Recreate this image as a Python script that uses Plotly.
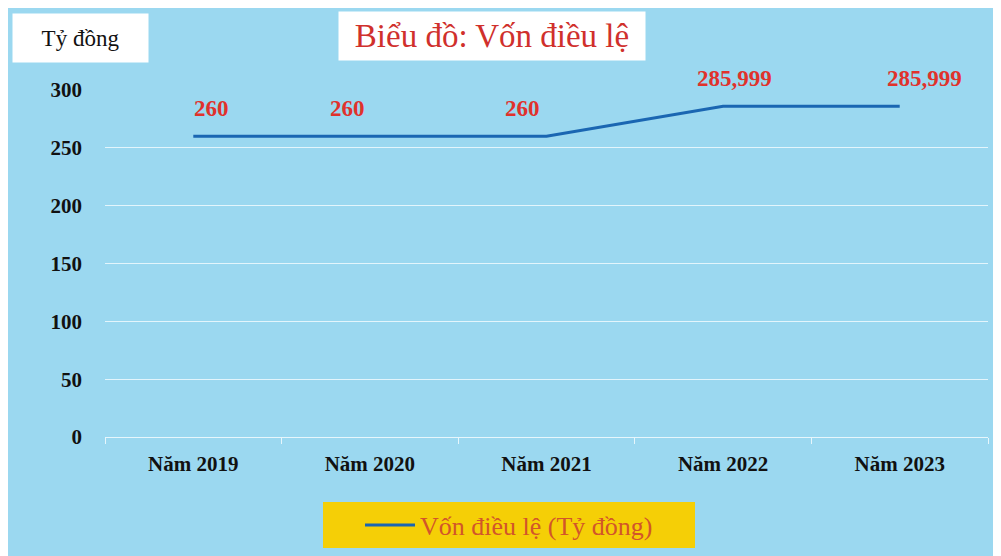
import plotly.graph_objects as go

categories = ["Năm 2019", "Năm 2020", "Năm 2021", "Năm 2022", "Năm 2023"]
von_dieu_le = [260, 260, 260, 285.999, 285.999]
y_ticks = [0, 50, 100, 150, 200, 250, 300]
labels = [f"{v:g}".replace(".", ",") for v in von_dieu_le]
label_xshift = [18, -22, -24, 11, 25]  # style: manual label nudges as in the original

OFF = 8  # page body margin in the browser
W, H = 1001 - OFF, 556 - OFF
ML, MR, MT, MB = 105 - OFF, 13, 90 - OFF, 119
pw, ph = W - ML - MR, H - MT - MB

def px(x):  # reference-screen x -> paper x
    return (x - OFF - ML) / pw

def py(y):  # reference-screen y -> paper y
    return (H - MB - (y - OFF)) / ph

SERIF = "Liberation Serif, Times New Roman, serif"
BG = "#9bd8f0"

fig = go.Figure()
fig.add_trace(go.Scatter(
    x=categories, y=von_dieu_le, mode="lines",
    name="Vốn điều lệ (Tỷ đồng)",
    line=dict(color="#1a66b2", width=3),
))

value_labels = [
    dict(text=f"<b>{t}</b>", x=c, y=v, xref="x", yref="y",
         xanchor="center", yanchor="bottom", yshift=13, xshift=dx, showarrow=False,
         font=dict(family=SERIF, size=23, color="#e0322c"))
    for c, v, t, dx in zip(categories, von_dieu_le, labels, label_xshift)
]

fig.update_layout(
    width=W, height=H,
    margin=dict(l=ML, r=MR, t=MT, b=MB, autoexpand=False),
    paper_bgcolor=BG,
    plot_bgcolor="rgba(0,0,0,0)",
    showlegend=True,
    legend=dict(
        orientation="h", x=px(509), xanchor="center", y=py(525), yanchor="middle",
        bgcolor="rgba(0,0,0,0)", font=dict(family=SERIF, size=26, color="#d2552a"),
        itemwidth=50, borderwidth=0,
    ),
    xaxis=dict(
        range=[-0.5, len(categories) - 0.5],
        showgrid=False, showline=True, linecolor="#e6f6fc", linewidth=1,
        ticks="outside", tickson="boundaries", ticklen=6, tickcolor="#e6f6fc",
        tickfont=dict(family=SERIF, size=21, color="#111111", weight="bold"),
        ticklabelstandoff=8,
    ),
    yaxis=dict(
        range=[0, 300], tickvals=y_ticks, showgrid=True, gridcolor="#e3f5fc", gridwidth=1,
        zeroline=False, showline=False,
        tickfont=dict(family=SERIF, size=21, color="#111111", weight="bold"),
        ticklabelstandoff=22,
    ),
    shapes=[
        dict(type="rect", xref="paper", yref="paper", layer="below",
             x0=px(323), x1=px(695), y0=py(548), y1=py(502),
             fillcolor="#f5cf06", line=dict(width=0)),
    ],
    annotations=value_labels + [
        dict(text="Tỷ đồng", xref="paper", yref="paper", x=px(80), y=py(38),
             xanchor="center", yanchor="middle", showarrow=False,
             bgcolor="white", width=133, height=46,
             font=dict(family=SERIF, size=23, color="#111111")),
        dict(text="Biểu đồ: Vốn điều lệ", xref="paper", yref="paper", x=px(492), y=py(36),
             xanchor="center", yanchor="middle", showarrow=False,
             bgcolor="white", width=304, height=46,
             font=dict(family=SERIF, size=33, color="#d0302c")),
    ],
)

fig.write_html("out.html")
